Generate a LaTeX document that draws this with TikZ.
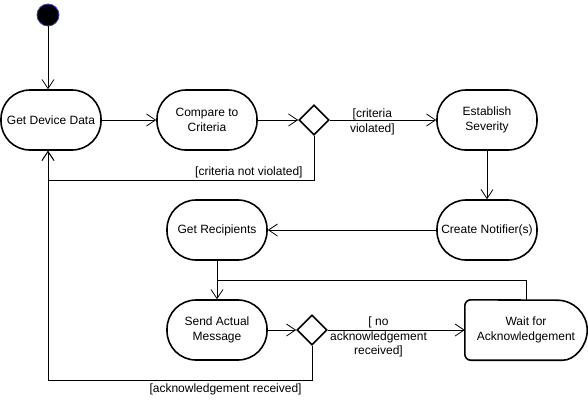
\documentclass[tikz,border=0pt]{standalone}
\usepackage{fontspec}
\setmainfont{Liberation Sans}
\usetikzlibrary{arrows.meta,shapes.geometric}
\definecolor{startblue}{RGB}{60,60,200}
\tikzset{
  act/.style={draw, line width=1.6pt, rounded corners=29pt, minimum width=100pt, minimum height=60pt, align=center, font=\fontsize{12}{14.5}\selectfont},
  choice/.style={draw, diamond, line width=1.6pt, minimum width=30pt, minimum height=30pt, inner sep=0pt},
  guard/.style={font=\fontsize{12}{14.5}\selectfont, align=center, inner sep=1pt},
  flow/.style={->, line width=0.8pt}
}
\begin{document}
\begin{tikzpicture}[>={Straight Barb[length=9pt,width=12pt]}, x=1pt, y=-1pt]
\useasboundingbox (0,0) rectangle (588,402);
\node[circle, fill=black, draw=startblue, line width=0.8pt, minimum size=22pt, inner sep=0pt] (start) at (48,15) {};
\node[act] (gdd) at (51,120) {Get Device Data};
\node[act] (cmp) at (207,120) {Compare to\\Criteria};
\node[choice] (d1) at (314,120) {};
\node[act] (sev) at (487,120) {Establish\\Severity};
\node[act] (notif) at (487,230) {Create Notifier(s)};
\node[act] (recip) at (217,230) {Get Recipients};
\node[act] (send) at (217,330) {Send Actual\\Message};
\node[choice] (d2) at (312,330) {};
\node[align=center, font=\fontsize{12}{14.5}\selectfont, minimum width=122pt, minimum height=60pt] (wait) at (526,330) {Wait for\\Acknowledgement};
\draw[line width=1.6pt] ([xshift=-30pt]wait.south east) arc[start angle=-90,end angle=90,radius=30pt] [rounded corners=6pt] -- (wait.north west) -- (wait.south west) -- cycle;
\coordinate (c1) at (48,180);
\coordinate (c2) at (48,380);
\coordinate (merge) at (217,280);
\draw[flow] (start) -- (start |- gdd.north);
\draw[flow] (gdd) -- (cmp);
\draw[flow] (cmp) -- (d1);
\draw[flow] (d1) -- node[guard, pos=0.4, yshift=-2pt] (lblviol) {[criteria\\violated]} (sev);
\draw[flow] (d1.south) |- node[guard, anchor=south east, xshift=-10pt, yshift=1pt] (lblnotviol) {[criteria not violated]} (c1) -- (start |- gdd.south);
\draw[flow] (sev) -- (notif);
\draw[flow] (notif) -- (recip);
\draw[flow] (recip) -- (send);
\draw[line width=0.8pt] (wait.north) |- (merge);
\draw[flow] (send) -- (d2);
\draw[flow] (d2) -- node[guard, pos=0.37, yshift=-7pt] (lblnoack) {[ no\\acknowledgement\\received]} (wait);
\draw[flow] (d2.south) |- node[guard, anchor=north east, xshift=-9pt, yshift=-2pt] (lblack) {[acknowledgement received]} (c2) -- (start |- gdd.south);
\end{tikzpicture}
\end{document}
